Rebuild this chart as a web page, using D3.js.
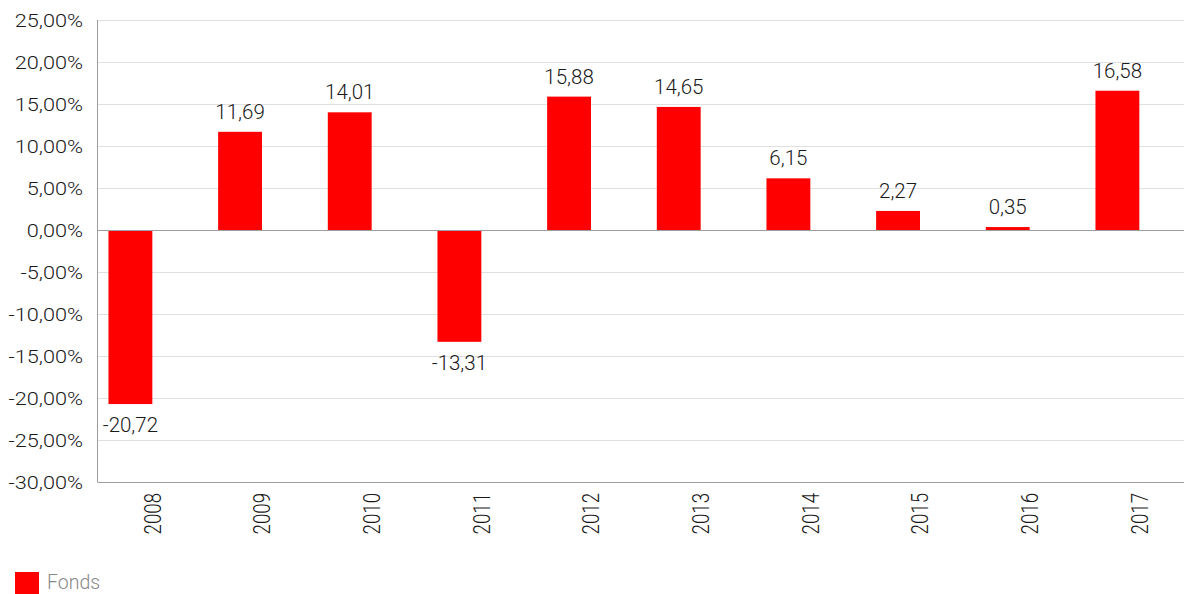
<!DOCTYPE html>
<html>
<head>
<meta charset="utf-8">
<script src="https://cdn.jsdelivr.net/npm/d3@7"></script>
<style>
  html, body { margin: 0; padding: 0; background: #fff; }
  svg { display: block; font-family: Roboto, "Noto Sans", sans-serif; }
</style>
</head>
<body>
<svg id="chart" width="1184" height="594"></svg>
<script>
// Annual fund performance, in percent
const years = ["2008", "2009", "2010", "2011", "2012", "2013", "2014", "2015", "2016", "2017"];
const fonds = [-20.72, 11.69, 14.01, -13.31, 15.88, 14.65, 6.15, 2.27, 0.35, 16.58];
const yTicks = [25, 20, 15, 10, 5, 0, -5, -10, -15, -20, -25, -30];
const seriesName = "Fonds";

const plotLeft = 97.5, plotTop = 20, plotBottom = 482, gridRight = 1184;

const svg = d3.select("#chart");

const loc = d3.formatLocale({ decimal: ",", thousands: ".", grouping: [3], currency: ["", " €"], minus: "-" });
const fmtTick = v => loc.format(".2f")(v) + "%";
const fmtVal = loc.format(".2f");

const y = d3.scaleLinear().domain([-30, 25]).range([plotBottom, plotTop]);
const x = d3.scaleBand().domain(years).range([plotLeft, 1150.3]).paddingInner(0.6).paddingOuter(0.1);

// horizontal grid
svg.append("g").selectAll("line").data(yTicks.filter(t => t !== 0 && t !== -30)).join("line")
  .attr("x1", plotLeft).attr("x2", gridRight)
  .attr("y1", d => Math.round(y(d)) + 0.5).attr("y2", d => Math.round(y(d)) + 0.5)
  .attr("stroke", "#e0e0e0").attr("stroke-width", 1);

// y tick labels (wide setting)
svg.append("g").selectAll("text").data(yTicks).join("text")
  .attr("transform", d => `translate(83,${y(d)}) scale(1.16,1)`)
  .attr("dy", "0.35em")
  .attr("text-anchor", "end")
  .attr("font-size", 18.7).attr("font-weight", 300).attr("fill", "#1a1a1a")
  .text(fmtTick);

// bars
svg.append("g").selectAll("rect").data(fonds).join("rect")
  .attr("x", (d, i) => x(years[i]))
  .attr("width", x.bandwidth())
  .attr("y", d => y(Math.max(0, d)))
  .attr("height", d => Math.abs(y(d) - y(0)))
  .attr("fill", "#ff0000");

// value labels
svg.append("g").selectAll("text").data(fonds).join("text")
  .attr("x", (d, i) => x(years[i]) + x.bandwidth() / 2)
  .attr("y", d => d >= 0 ? y(d) - 13 : y(d) + 28)
  .attr("text-anchor", "middle")
  .attr("font-size", 20.5).attr("font-weight", 300).attr("fill", "#1a1a1a")
  .text(fmtVal);

// zero line
svg.append("line")
  .attr("x1", plotLeft).attr("x2", gridRight)
  .attr("y1", Math.round(y(0)) + 0.5).attr("y2", Math.round(y(0)) + 0.5)
  .attr("stroke", "#9e9e9e").attr("stroke-width", 1);

// axis lines
svg.append("line")
  .attr("x1", plotLeft).attr("x2", plotLeft).attr("y1", plotTop).attr("y2", plotBottom)
  .attr("stroke", "#9e9e9e").attr("stroke-width", 1);
svg.append("line")
  .attr("x1", plotLeft).attr("x2", gridRight)
  .attr("y1", plotBottom + 0.5).attr("y2", plotBottom + 0.5)
  .attr("stroke", "#9e9e9e").attr("stroke-width", 1);

// x tick labels (rotated, wide setting)
svg.append("g").selectAll("text").data(years).join("text")
  .attr("transform", d => `translate(${x(d) + x.bandwidth()},${plotBottom + 11}) scale(1.28,1) rotate(-90)`)
  .attr("text-anchor", "end").attr("dy", "0.35em")
  .attr("font-size", 18.7).attr("font-weight", 300).attr("fill", "#1a1a1a")
  .text(d => d);

// legend
const lg = svg.append("g").attr("transform", "translate(15,572)");
lg.append("rect").attr("width", 24).attr("height", 24).attr("fill", "#ff0000");
lg.append("text").attr("x", 32).attr("y", 17)
  .attr("font-size", 19.5).attr("font-weight", 300).attr("fill", "#888")
  .text(seriesName);
</script>
</body>
</html>
